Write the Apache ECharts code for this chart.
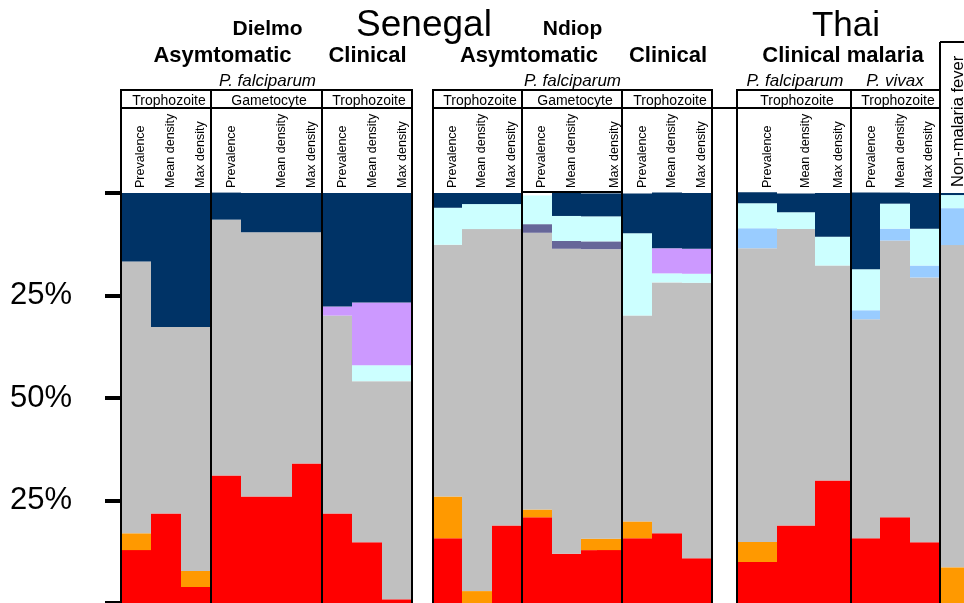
<!DOCTYPE html>
<html>
<head>
<meta charset="utf-8">
<script src="https://cdn.jsdelivr.net/npm/echarts@6/dist/echarts.min.js"></script>
<style>
html,body{margin:0;padding:0;background:#fff;}
#chart{width:964px;height:603px;}
</style>
</head>
<body>
<div id="chart"></div>
<script>
// ---------------- DATA ----------------
const columnLabels = [
  'Prevalence','Mean density','Max density',
  'Prevalence','','Mean density','Max density',
  'Prevalence','Mean density','Max density',
  'Prevalence','Mean density','Max density',
  'Prevalence','Mean density','','Max density',
  'Prevalence','Mean density','Max density',
  'Prevalence','Mean density','Max density',
  'Prevalence','Mean density','Max density',
  ''
];
const redVals      = [12.9,21.8,3.9, 31.1,26.0,26.0,34.0, 21.8,14.8,0.9, 15.8,0,18.9, 20.9,12.0,12.9,12.9, 15.8,17.0,10.9, 10.0,18.9,29.9, 15.8,20.9,14.8, 0];
const orangeVals   = [4.1,0,3.9, 0,0,0,0, 0,0,0, 10.2,2.9,0, 1.9,0,2.8,2.8, 4.1,0,0, 4.9,0,0, 0,0,0, 8.7];
const grayVals     = [66.3,45.5,59.5, 62.4,64.4,64.4,56.4, 48.3,39.3,53.2, 61.4,88.3,72.3, 67.5,74.4,70.6,70.6, 50.2,61.2,67.2, 71.6,72.3,52.4, 53.4,67.5,64.6, 78.6];
const lightBlueVals= [0,0,0, 0,0,0,0, 0,0,0, 0,0,0, 0,0,0,0, 0,0,0, 4.9,0,0, 2.2,2.9,2.9, 9.0];
const slateVals    = [0,0,0, 0,0,0,0, 0,0,0, 0,0,0, 2.1,1.9,1.9,1.9, 0,0,0, 0,0,0, 0,0,0, 0];
const cyanVals     = [0,0,0, 0,0,0,0, 0,3.9,3.9, 9.0,6.1,6.1, 7.0,6.1,6.1,6.1, 20.1,2.2,2.2, 6.1,4.1,7.0, 10.0,6.1,9.0, 3.2];
const lavenderVals = [0,0,0, 0,0,0,0, 2.2,15.3,15.3, 0,0,0, 0,0,0,0, 0,6.1,6.1, 0,0,0, 0,0,0, 0];
const navyVals     = [16.7,32.7,32.7, 6.6,9.6,9.6,9.6, 27.7,26.7,26.7, 3.6,2.7,2.7, 0,5.6,5.6,5.6, 9.7,13.6,13.6, 2.7,4.6,10.7, 18.7,2.7,8.7, 0.5];
const tickLabels = {25:'25%', 50:'50%', 75:'25%'};

// ---------------- LAYOUT ----------------
const colEdges = [
  [121,151],[151,181],[181,211],
  [211,241],[241,266],[266,292],[292,322],
  [322,352],[352,382],[382,412],
  [433,462],[462,492],[492,522],
  [522,552],[552,581],[581,597],[597,622],
  [622,652],[652,682],[682,712],
  [737,777],[777,815],[815,851],
  [851,880],[880,910],[910,940],
  [940,964]
];
const labelX = [141,171,201, 232,0,282,312, 343,373,403, 453,482,512, 542,572,0,615, 643,672,702, 768,806,839, 872,901,929, 0];

const seriesDefs = [
  ['red', '#FF0000', redVals],
  ['orange', '#FF9900', orangeVals],
  ['gray', '#C0C0C0', grayVals],
  ['lightblue', '#99CCFF', lightBlueVals],
  ['slate', '#666699', slateVals],
  ['cyan', '#CCFFFF', cyanVals],
  ['lavender', '#CC99FF', lavenderVals],
  ['navy', '#003366', navyVals]
];

const base = colEdges.map(() => 0);
const series = seriesDefs.map(([name, color, vals]) => {
  const data = vals.map((v, i) => {
    const item = [i, base[i], base[i] + v];
    base[i] += v;
    return item;
  });
  return {
    type: 'custom', name: name, data: data, silent: true,
    renderItem: function (params, api) {
      const i = api.value(0), b = api.value(1), t = api.value(2);
      if (t - b <= 0) return null;
      const e = colEdges[i];
      const p0 = api.coord([e[0], b]);
      const p1 = api.coord([e[1], t]);
      return { type: 'rect', shape: { x: p0[0], y: p1[1], width: p1[0] - p0[0], height: p0[1] - p1[1] }, style: { fill: color } };
    }
  };
});

const FONT = '"Liberation Sans", Arial, Helvetica, sans-serif';
const g = [];
function txt(text, x, y, size, weight, style, align) {
  g.push({ type: 'text', x: x, y: y, z: 100, style: { text: text, font: (style||'normal') + ' ' + (weight||'normal') + ' ' + size + 'px ' + FONT, fill: '#000', textAlign: align || 'center', textVerticalAlign: 'bottom' } });
}
function rtxt(text, x, y, size) {
  g.push({ type: 'text', x: x, y: y, rotation: Math.PI / 2, z: 100, style: { text: text, font: 'normal ' + size + 'px ' + FONT, fill: '#000', textAlign: 'left', textVerticalAlign: 'middle' } });
}
function line(x1, y1, x2, y2) {
  g.push({ type: 'line', z: 100, shape: { x1: x1, y1: y1, x2: x2, y2: y2 }, style: { stroke: '#000', lineWidth: 2 } });
}

txt('Senegal', 424, 44, 37);
txt('Thai', 846, 44, 35);
txt('Dielmo', 267.5, 40, 21, 'bold');
txt('Ndiop', 572.5, 40, 21, 'bold');
txt('Asymtomatic', 222.5, 67, 22, 'bold');
txt('Clinical', 367.5, 67, 22, 'bold');
txt('Asymtomatic', 529, 67, 22, 'bold');
txt('Clinical', 668, 67, 22, 'bold');
txt('Clinical malaria', 843, 67, 22, 'bold');
txt('P. falciparum', 267.5, 90, 17, 'normal', 'italic');
txt('P. falciparum', 572.5, 90, 17, 'normal', 'italic');
txt('P. falciparum', 795, 90, 17, 'normal', 'italic');
txt('P. vivax', 895, 90, 17, 'normal', 'italic');
[['Trophozoite',169],['Gametocyte',269],['Trophozoite',369],['Trophozoite',480],['Gametocyte',575],['Trophozoite',670],['Trophozoite',797],['Trophozoite',898]]
  .forEach(([t, x]) => txt(t, x, 108, 14));
columnLabels.forEach((t, i) => { if (t) rtxt(t, labelX[i], 188, 12.5); });
rtxt('Non-malaria fever', 958, 187, 16.5);

// lines
[121,211,322,412,433,522,622,712,737,851].forEach(x => line(x, 90, x, 603));
line(940, 42, 940, 603);
line(940, 42, 964, 42);
line(120, 90, 413, 90); line(432, 90, 713, 90); line(736, 90, 941, 90);
line(120, 108, 413, 108); line(432, 108, 941, 108);
line(522, 192, 622, 192);

const chart = echarts.init(document.getElementById('chart'), null, { renderer: 'canvas' });
chart.setOption({
  animation: false,
  backgroundColor: '#fff',
  grid: { left: 121, right: 0, top: 193, height: 412, containLabel: false },
  xAxis: { type: 'value', min: 121, max: 964, show: false },
  yAxis: {
    type: 'value', min: 0, max: 100, interval: 25,
    axisLine: { show: false },
    splitLine: { show: false },
    axisTick: { show: true, length: 16, lineStyle: { color: '#000', width: 4 } },
    axisLabel: { margin: 49, fontSize: 31, color: '#000', fontFamily: FONT, formatter: v => tickLabels[v] || '' }
  },
  series: series,
  graphic: g
});
</script>
</body>
</html>
